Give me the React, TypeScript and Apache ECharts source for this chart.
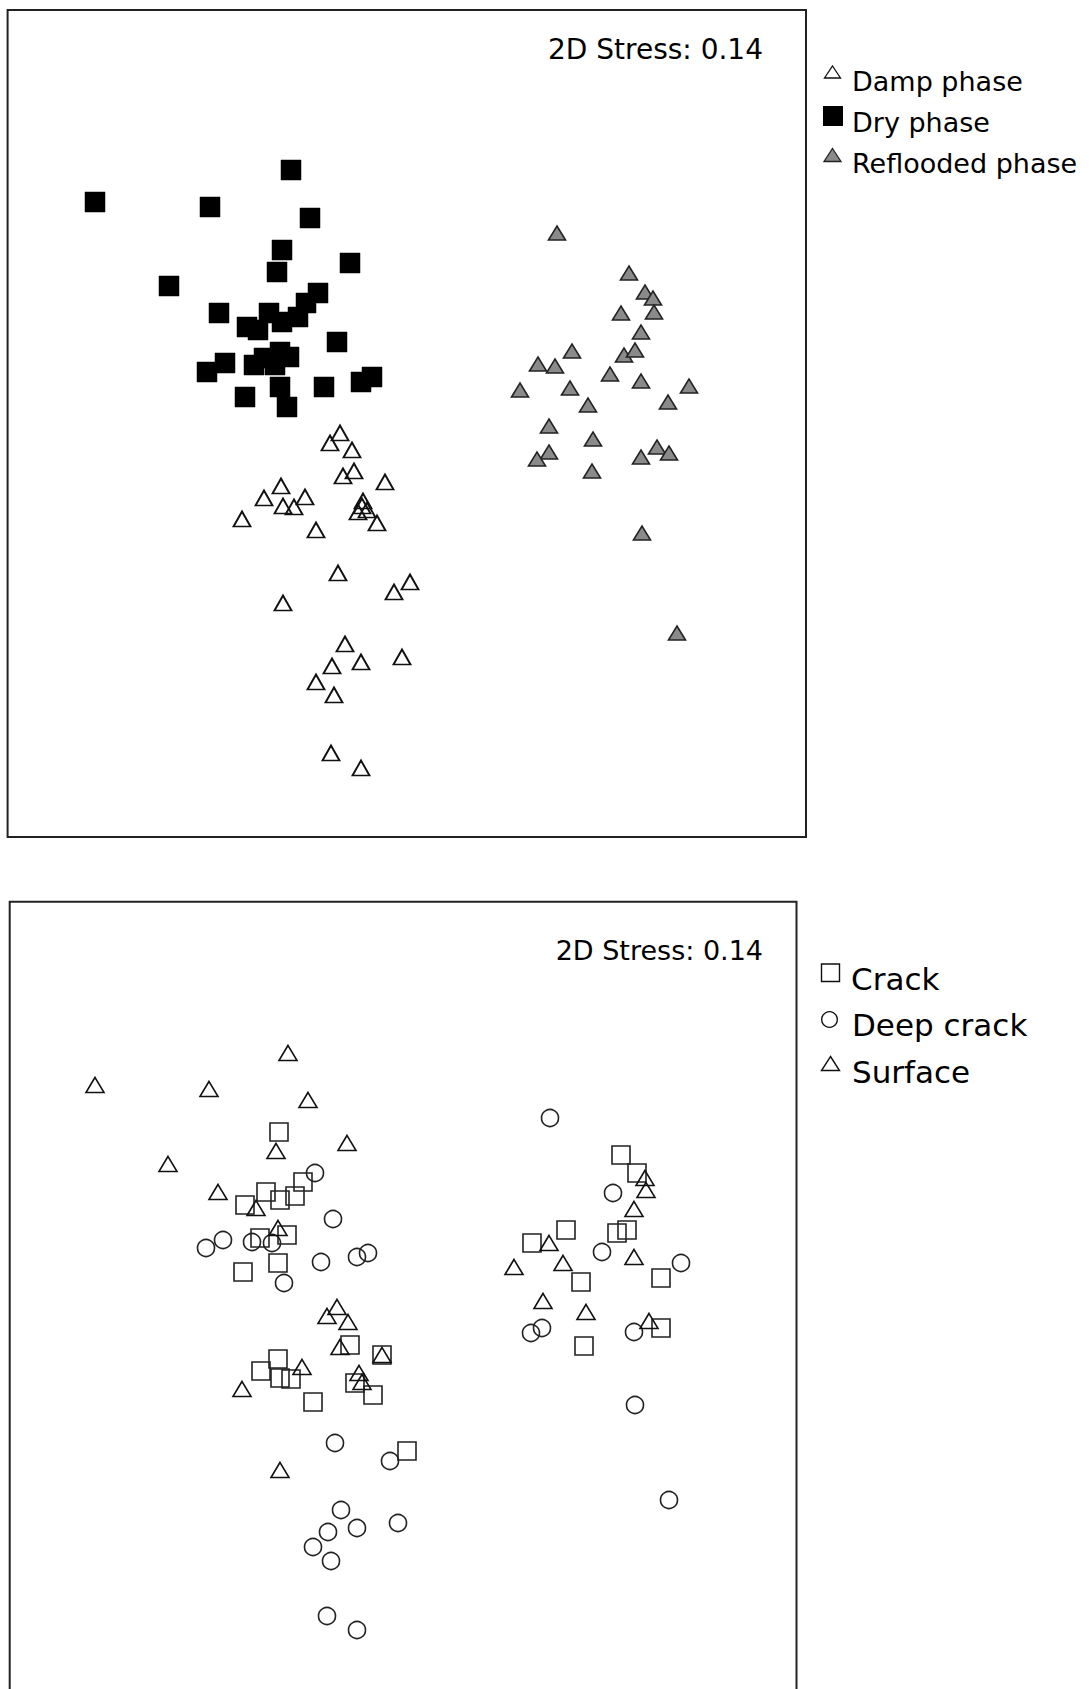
import React, { useEffect, useRef } from "react";
import * as echarts from "echarts";

// ---- Data: ordination coordinates (in its own plot units) ----
// Upper panel: sampling phase
const dampPhase: number[][] = [
  [340, 433], [330, 443], [352, 450], [354, 471], [343, 476], [385, 482], [281, 486], [264, 498],
  [305, 497], [283, 506], [294, 507], [363, 501], [358, 512], [367, 510], [362, 506], [377, 523],
  [242, 519], [316, 530], [338, 573], [410, 582], [394, 592], [283, 603], [345, 644], [402, 657],
  [332, 666], [361, 662], [316, 682], [334, 695], [331, 753], [361, 768],
];
const dryPhase: number[][] = [
  [291, 170], [95, 202], [210, 207], [310, 218], [282, 250], [350, 263], [277, 272], [169, 286],
  [318, 293], [306, 303], [219, 313], [269, 313], [298, 317], [282, 322], [247, 327], [258, 330],
  [337, 342], [280, 352], [289, 357], [225, 363], [207, 372], [254, 365], [275, 365], [264, 358],
  [372, 377], [361, 382], [324, 387], [280, 387], [245, 397], [287, 407],
];
const refloodedPhase: number[][] = [
  [557, 233], [629, 273], [645, 292], [653, 298], [654, 312], [621, 313], [641, 332], [572, 351],
  [624, 355], [635, 350], [538, 364], [555, 366], [610, 374], [641, 381], [689, 386], [520, 390],
  [570, 388], [588, 405], [668, 402], [549, 426], [593, 439], [549, 452], [537, 459], [657, 447],
  [669, 453], [641, 457], [592, 471], [642, 533], [677, 633],
];

// Lower panel: habitat
const crack: number[][] = [
  [279, 1132], [266, 1192], [303, 1182], [295, 1196], [280, 1200], [245, 1205], [260, 1238], [287, 1235],
  [278, 1263], [243, 1272], [350, 1345], [382, 1355], [278, 1359], [261, 1371], [280, 1378], [291, 1379],
  [355, 1383], [373, 1395], [313, 1402], [407, 1451], [621, 1155], [637, 1173], [566, 1230], [532, 1243],
  [617, 1233], [627, 1230], [581, 1282], [661, 1278], [661, 1328], [584, 1346],
];
const deepCrack: number[][] = [
  [315, 1173], [333, 1219], [223, 1240], [206, 1248], [252, 1242], [272, 1243], [321, 1262], [357, 1257],
  [368, 1253], [284, 1283], [335, 1443], [390, 1461], [341, 1510], [357, 1528], [398, 1523], [328, 1532],
  [313, 1547], [331, 1561], [327, 1616], [357, 1630], [550, 1118], [613, 1193], [602, 1252], [681, 1263],
  [531, 1333], [542, 1328], [634, 1332], [635, 1405], [669, 1500],
];
const surface: number[][] = [
  [288, 1053], [95, 1085], [209, 1089], [308, 1100], [347, 1143], [276, 1151], [168, 1164], [218, 1192],
  [256, 1208], [278, 1228], [337, 1307], [327, 1316], [348, 1322], [340, 1347], [382, 1355], [302, 1367],
  [359, 1373], [362, 1382], [242, 1389], [280, 1470], [645, 1178], [646, 1190], [634, 1209], [549, 1243],
  [634, 1257], [514, 1267], [563, 1263], [543, 1301], [586, 1312], [649, 1321],
];

const stressLabel = "2D Stress: 0.14";
const topLegend = ["Damp phase", "Dry phase", "Reflooded phase"];
const bottomLegend = ["Crack", "Deep crack", "Surface"];

// axis extents (plot units) of the two panels
const topRange = { xMin: 7.6, xMax: 806, yMin: 10, yMax: 837 };
const botRange = { xMin: 9.7, xMax: 796.5, yMin: 901.7, yMax: 1689 };

const FONT = '"DejaVu Sans", "Noto Sans", sans-serif';
const CLEAR = "rgba(0,0,0,0)";

function tri(cx: number, cy: number, w: number, h: number) {
  return [
    [cx, cy - h / 2],
    [cx + w / 2, cy + h / 2],
    [cx - w / 2, cy + h / 2],
  ];
}

export default function App() {
  const ref = useRef<HTMLDivElement>(null);

  useEffect(() => {
    document.body.style.margin = "0";
    if (!ref.current) return;
    const chart = echarts.init(ref.current, undefined, { renderer: "svg" });

    const hiddenAxis = {
      type: "value" as const,
      show: false,
      splitLine: { show: false },
    };

    const option: any = {
      animation: false,
      backgroundColor: "#fff",
      grid: [
        {
          left: topRange.xMin,
          top: topRange.yMin,
          width: topRange.xMax - topRange.xMin,
          height: topRange.yMax - topRange.yMin,
          show: true,
          borderColor: "#222",
          borderWidth: 2,
          backgroundColor: "#fff",
        },
        {
          left: botRange.xMin,
          top: botRange.yMin,
          width: botRange.xMax - botRange.xMin,
          height: botRange.yMax - botRange.yMin,
          show: false,
        },
      ],
      xAxis: [
        { ...hiddenAxis, gridIndex: 0, min: topRange.xMin, max: topRange.xMax },
        { ...hiddenAxis, gridIndex: 1, min: botRange.xMin, max: botRange.xMax },
      ],
      yAxis: [
        { ...hiddenAxis, gridIndex: 0, inverse: true, min: topRange.yMin, max: topRange.yMax },
        { ...hiddenAxis, gridIndex: 1, inverse: true, min: botRange.yMin, max: botRange.yMax },
      ],
      series: [
        {
          name: topLegend[1],
          type: "scatter",
          xAxisIndex: 0,
          yAxisIndex: 0,
          data: dryPhase,
          symbol: "rect",
          symbolSize: 20,
          itemStyle: { color: "#000", borderColor: "#000", borderWidth: 0.5, opacity: 1 },
          silent: true,
        },
        {
          name: topLegend[0],
          type: "scatter",
          xAxisIndex: 0,
          yAxisIndex: 0,
          data: dampPhase,
          symbol: "triangle",
          symbolSize: [17, 15],
          itemStyle: { color: CLEAR, borderColor: "#111", borderWidth: 1.8, opacity: 1 },
          silent: true,
        },
        {
          name: topLegend[2],
          type: "scatter",
          xAxisIndex: 0,
          yAxisIndex: 0,
          data: refloodedPhase,
          symbol: "triangle",
          symbolSize: [17, 14],
          itemStyle: { color: "#8a8a8a", borderColor: "#222", borderWidth: 1.6, opacity: 1 },
          silent: true,
        },
        {
          name: bottomLegend[0],
          type: "scatter",
          xAxisIndex: 1,
          yAxisIndex: 1,
          data: crack,
          symbol: "rect",
          symbolSize: 18,
          itemStyle: { color: CLEAR, borderColor: "#222", borderWidth: 1.6, opacity: 1 },
          silent: true,
        },
        {
          name: bottomLegend[1],
          type: "scatter",
          xAxisIndex: 1,
          yAxisIndex: 1,
          data: deepCrack,
          symbol: "circle",
          symbolSize: 17,
          itemStyle: { color: CLEAR, borderColor: "#222", borderWidth: 1.6, opacity: 1 },
          silent: true,
        },
        {
          name: bottomLegend[2],
          type: "scatter",
          xAxisIndex: 1,
          yAxisIndex: 1,
          data: surface,
          symbol: "triangle",
          symbolSize: [18, 15],
          itemStyle: { color: CLEAR, borderColor: "#111", borderWidth: 1.6, opacity: 1 },
          silent: true,
        },
      ],
      graphic: [
        // lower panel frame (its bottom edge lies below the page)
        {
          type: "polyline",
          shape: {
            points: [
              [botRange.xMin, botRange.yMax + 5],
              [botRange.xMin, botRange.yMin],
              [botRange.xMax, botRange.yMin],
              [botRange.xMax, botRange.yMax + 5],
            ],
          },
          style: { fill: null, stroke: "#222", lineWidth: 2 },
          silent: true,
        },
        // stress annotations
        {
          type: "text",
          x: 763,
          y: 49,
          style: { text: stressLabel, fontSize: 28, fontFamily: FONT, fill: "#000", align: "right", verticalAlign: "middle" },
        },
        {
          type: "text",
          x: 763,
          y: 950,
          style: { text: stressLabel, fontSize: 27, fontFamily: FONT, fill: "#000", align: "right", verticalAlign: "middle" },
        },
        // upper legend
        {
          type: "polygon",
          shape: { points: tri(832.5, 72, 16, 12) },
          style: { fill: "#fff", stroke: "#111", lineWidth: 1.3 },
        },
        {
          type: "rect",
          shape: { x: 823, y: 106, width: 20, height: 20 },
          style: { fill: "#000" },
        },
        {
          type: "polygon",
          shape: { points: tri(832.5, 155, 17, 13) },
          style: { fill: "#8a8a8a", stroke: "#222", lineWidth: 1.3 },
        },
        {
          type: "text",
          x: 852,
          y: 81,
          style: { text: topLegend[0], fontSize: 27, fontFamily: FONT, fill: "#000", align: "left", verticalAlign: "middle" },
        },
        {
          type: "text",
          x: 852,
          y: 122,
          style: { text: topLegend[1], fontSize: 27, fontFamily: FONT, fill: "#000", align: "left", verticalAlign: "middle" },
        },
        {
          type: "text",
          x: 852,
          y: 163,
          style: { text: topLegend[2], fontSize: 27, fontFamily: FONT, fill: "#000", align: "left", verticalAlign: "middle" },
        },
        // lower legend
        {
          type: "rect",
          shape: { x: 821.5, y: 964, width: 18, height: 17.5 },
          style: { fill: "#fff", stroke: "#111", lineWidth: 1.4 },
        },
        {
          type: "circle",
          shape: { cx: 829.5, cy: 1019.5, r: 7.8 },
          style: { fill: "#fff", stroke: "#111", lineWidth: 1.4 },
        },
        {
          type: "polygon",
          shape: { points: tri(830.5, 1063.5, 18, 14) },
          style: { fill: "#fff", stroke: "#111", lineWidth: 1.4 },
        },
        {
          type: "text",
          x: 851,
          y: 979,
          style: { text: bottomLegend[0], fontSize: 31, fontFamily: FONT, fill: "#000", align: "left", verticalAlign: "middle" },
        },
        {
          type: "text",
          x: 852,
          y: 1025,
          style: { text: bottomLegend[1], fontSize: 31, fontFamily: FONT, fill: "#000", align: "left", verticalAlign: "middle" },
        },
        {
          type: "text",
          x: 852,
          y: 1072,
          style: { text: bottomLegend[2], fontSize: 31, fontFamily: FONT, fill: "#000", align: "left", verticalAlign: "middle" },
        },
      ],
    };

    chart.setOption(option);
    return () => {
      chart.dispose();
    };
  }, []);

  return (
    <div
      ref={ref}
      style={{ position: "absolute", left: 0, top: 0, width: 1089, height: 1689, background: "#fff" }}
    />
  );
}
